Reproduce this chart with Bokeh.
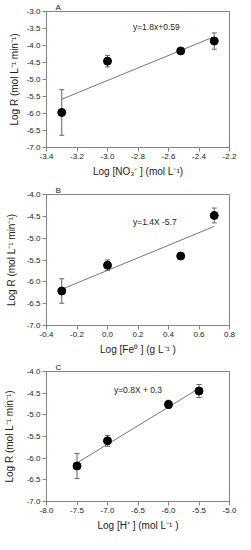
from bokeh.plotting import figure
from bokeh.models import ColumnDataSource, Whisker, TeeHead, NumeralTickFormatter, FixedTicker, Range1d
from bokeh.layouts import column
from bokeh.embed import file_html
from bokeh.resources import INLINE
from bokeh.core.properties import value

# Panel A
a_x = [-3.3, -3.0, -2.52, -2.3]
a_y = [-5.97, -4.46, -4.16, -3.87]
a_err = [0.67, 0.17, 0.03, 0.24]
a_fit_x = [-3.3, -2.3]
a_fit_y = [-5.58, -3.74]
a_eq = "y=1.8x+0.59"
a_eq_pos = (-2.68, -3.47)
a_xticks = [-3.4, -3.2, -3.0, -2.8, -2.6, -2.4, -2.2]
a_yticks = [-7.0, -6.5, -6.0, -5.5, -5.0, -4.5, -4.0, -3.5, -3.0]

# Panel B
b_x = [-0.3, 0.0, 0.48, 0.7]
b_y = [-6.21, -5.62, -5.41, -4.48]
b_err = [0.28, 0.12, 0.0, 0.17]
b_fit_x = [-0.3, 0.7]
b_fit_y = [-6.17, -4.73]
b_eq = "y=1.4X -5.7"
b_eq_pos = (0.31, -4.63)
b_xticks = [-0.4, -0.2, 0.0, 0.2, 0.4, 0.6, 0.8]
b_yticks = [-7.0, -6.5, -6.0, -5.5, -5.0, -4.5, -4.0]

# Panel C
c_x = [-7.5, -7.0, -6.0, -5.5]
c_y = [-6.18, -5.60, -4.76, -4.45]
c_err = [0.29, 0.125, 0.095, 0.15]
c_fit_x = [-7.5, -5.5]
c_fit_y = [-6.11, -4.39]
c_eq = "y=0.8X + 0.3"
c_eq_pos = (-6.5, -4.42)
c_xticks = [-8.0, -7.5, -7.0, -6.5, -6.0, -5.5, -5.0]
c_yticks = [-7.0, -6.5, -6.0, -5.5, -5.0, -4.5, -4.0]

panel_tags = ["A", "B", "C"]
y_label = "Log R (mol L\u207b\u00b9 min\u207b\u00b9)"
a_xlabel = "Log [NO\u2083\u207b ] (mol L\u207b\u00b9)"
b_xlabel = "Log [Fe\u2070 ] (g L\u207b\u00b9 )"
c_xlabel = "Log [H\u207a ] (mol L\u207b\u00b9 )"

FONT = "Liberation Sans"
GRAY = "#858585"


def make_panel(tag, xs, ys, errs, fx, fy, eq, eqpos, xticks, yticks, xlabel, height,
               top, bottom, left, right, ystand):
    p = figure(width=243, height=height, output_backend="svg", toolbar_location=None,
               x_range=Range1d(xticks[0], xticks[-1]), y_range=Range1d(yticks[0], yticks[-1]))
    p.min_border_left = left
    p.min_border_right = right
    p.min_border_top = top
    p.min_border_bottom = bottom
    p.title.text = tag
    p.title.align = "left"
    p.title.offset = 9
    p.title.standoff = 0
    p.title.text_font = FONT
    p.title.text_font_size = "8px"
    p.title.text_font_style = "normal"
    p.title.text_color = "#222222"
    p.grid.visible = False
    p.outline_line_color = GRAY
    p.background_fill_color = "white"
    p.border_fill_color = "white"
    for ax, ticks in ((p.xaxis[0], xticks), (p.yaxis[0], yticks)):
        ax.ticker = FixedTicker(ticks=ticks)
        ax.formatter = NumeralTickFormatter(format="0.0")
        ax.axis_line_color = GRAY
        ax.major_tick_line_color = GRAY
        ax.major_tick_out = 4
        ax.major_tick_in = 0
        ax.minor_tick_line_color = None
        ax.major_label_text_font = FONT
        ax.major_label_text_font_size = "8px"
        ax.major_label_text_color = "#222222"
        ax.major_label_standoff = 2
        ax.axis_label_text_font = FONT
        ax.axis_label_text_font_size = "10px"
        ax.axis_label_text_font_style = "normal"
        ax.axis_label_text_color = "#222222"
    p.xaxis.axis_label_standoff = 4
    p.yaxis.axis_label_standoff = ystand
    p.xaxis.axis_label = xlabel
    p.yaxis.axis_label = y_label

    src = ColumnDataSource(dict(x=xs, y=ys,
                                up=[y + e for y, e in zip(ys, errs)],
                                lo=[y - e for y, e in zip(ys, errs)]))
    p.line(fx, fy, line_color="#777777", line_width=1)
    w = Whisker(base="x", upper="up", lower="lo", source=src, dimension="height",
                line_color="#666666", line_width=1,
                upper_head=TeeHead(size=5, line_color="#666666", line_width=1),
                lower_head=TeeHead(size=5, line_color="#666666", line_width=1))
    p.add_layout(w)
    p.scatter("x", "y", source=src, size=8, color="black")
    p.text([eqpos[0]], [eqpos[1]], text=[eq], text_font=value(FONT), text_font_size="8.5px",
           text_align="center", text_baseline="middle", text_color="#222222")
    return p


pa = make_panel(panel_tags[0], a_x, a_y, a_err, a_fit_x, a_fit_y, a_eq, a_eq_pos,
                a_xticks, a_yticks, a_xlabel, 183, 9, 36, 35, 14, 4)
pb = make_panel(panel_tags[1], b_x, b_y, b_err, b_fit_x, b_fit_y, b_eq, b_eq_pos,
                b_xticks, b_yticks, b_xlabel, 177, 10, 35, 39, 13, 7)
pc = make_panel(panel_tags[2], c_x, c_y, c_err, c_fit_x, c_fit_y, c_eq, c_eq_pos,
                c_xticks, c_yticks, c_xlabel, 174, 10, 33, 42, 11, 9)

layout = column(pa, pb, pc, spacing=0)
open("out.html", "w").write(file_html(layout, INLINE))
